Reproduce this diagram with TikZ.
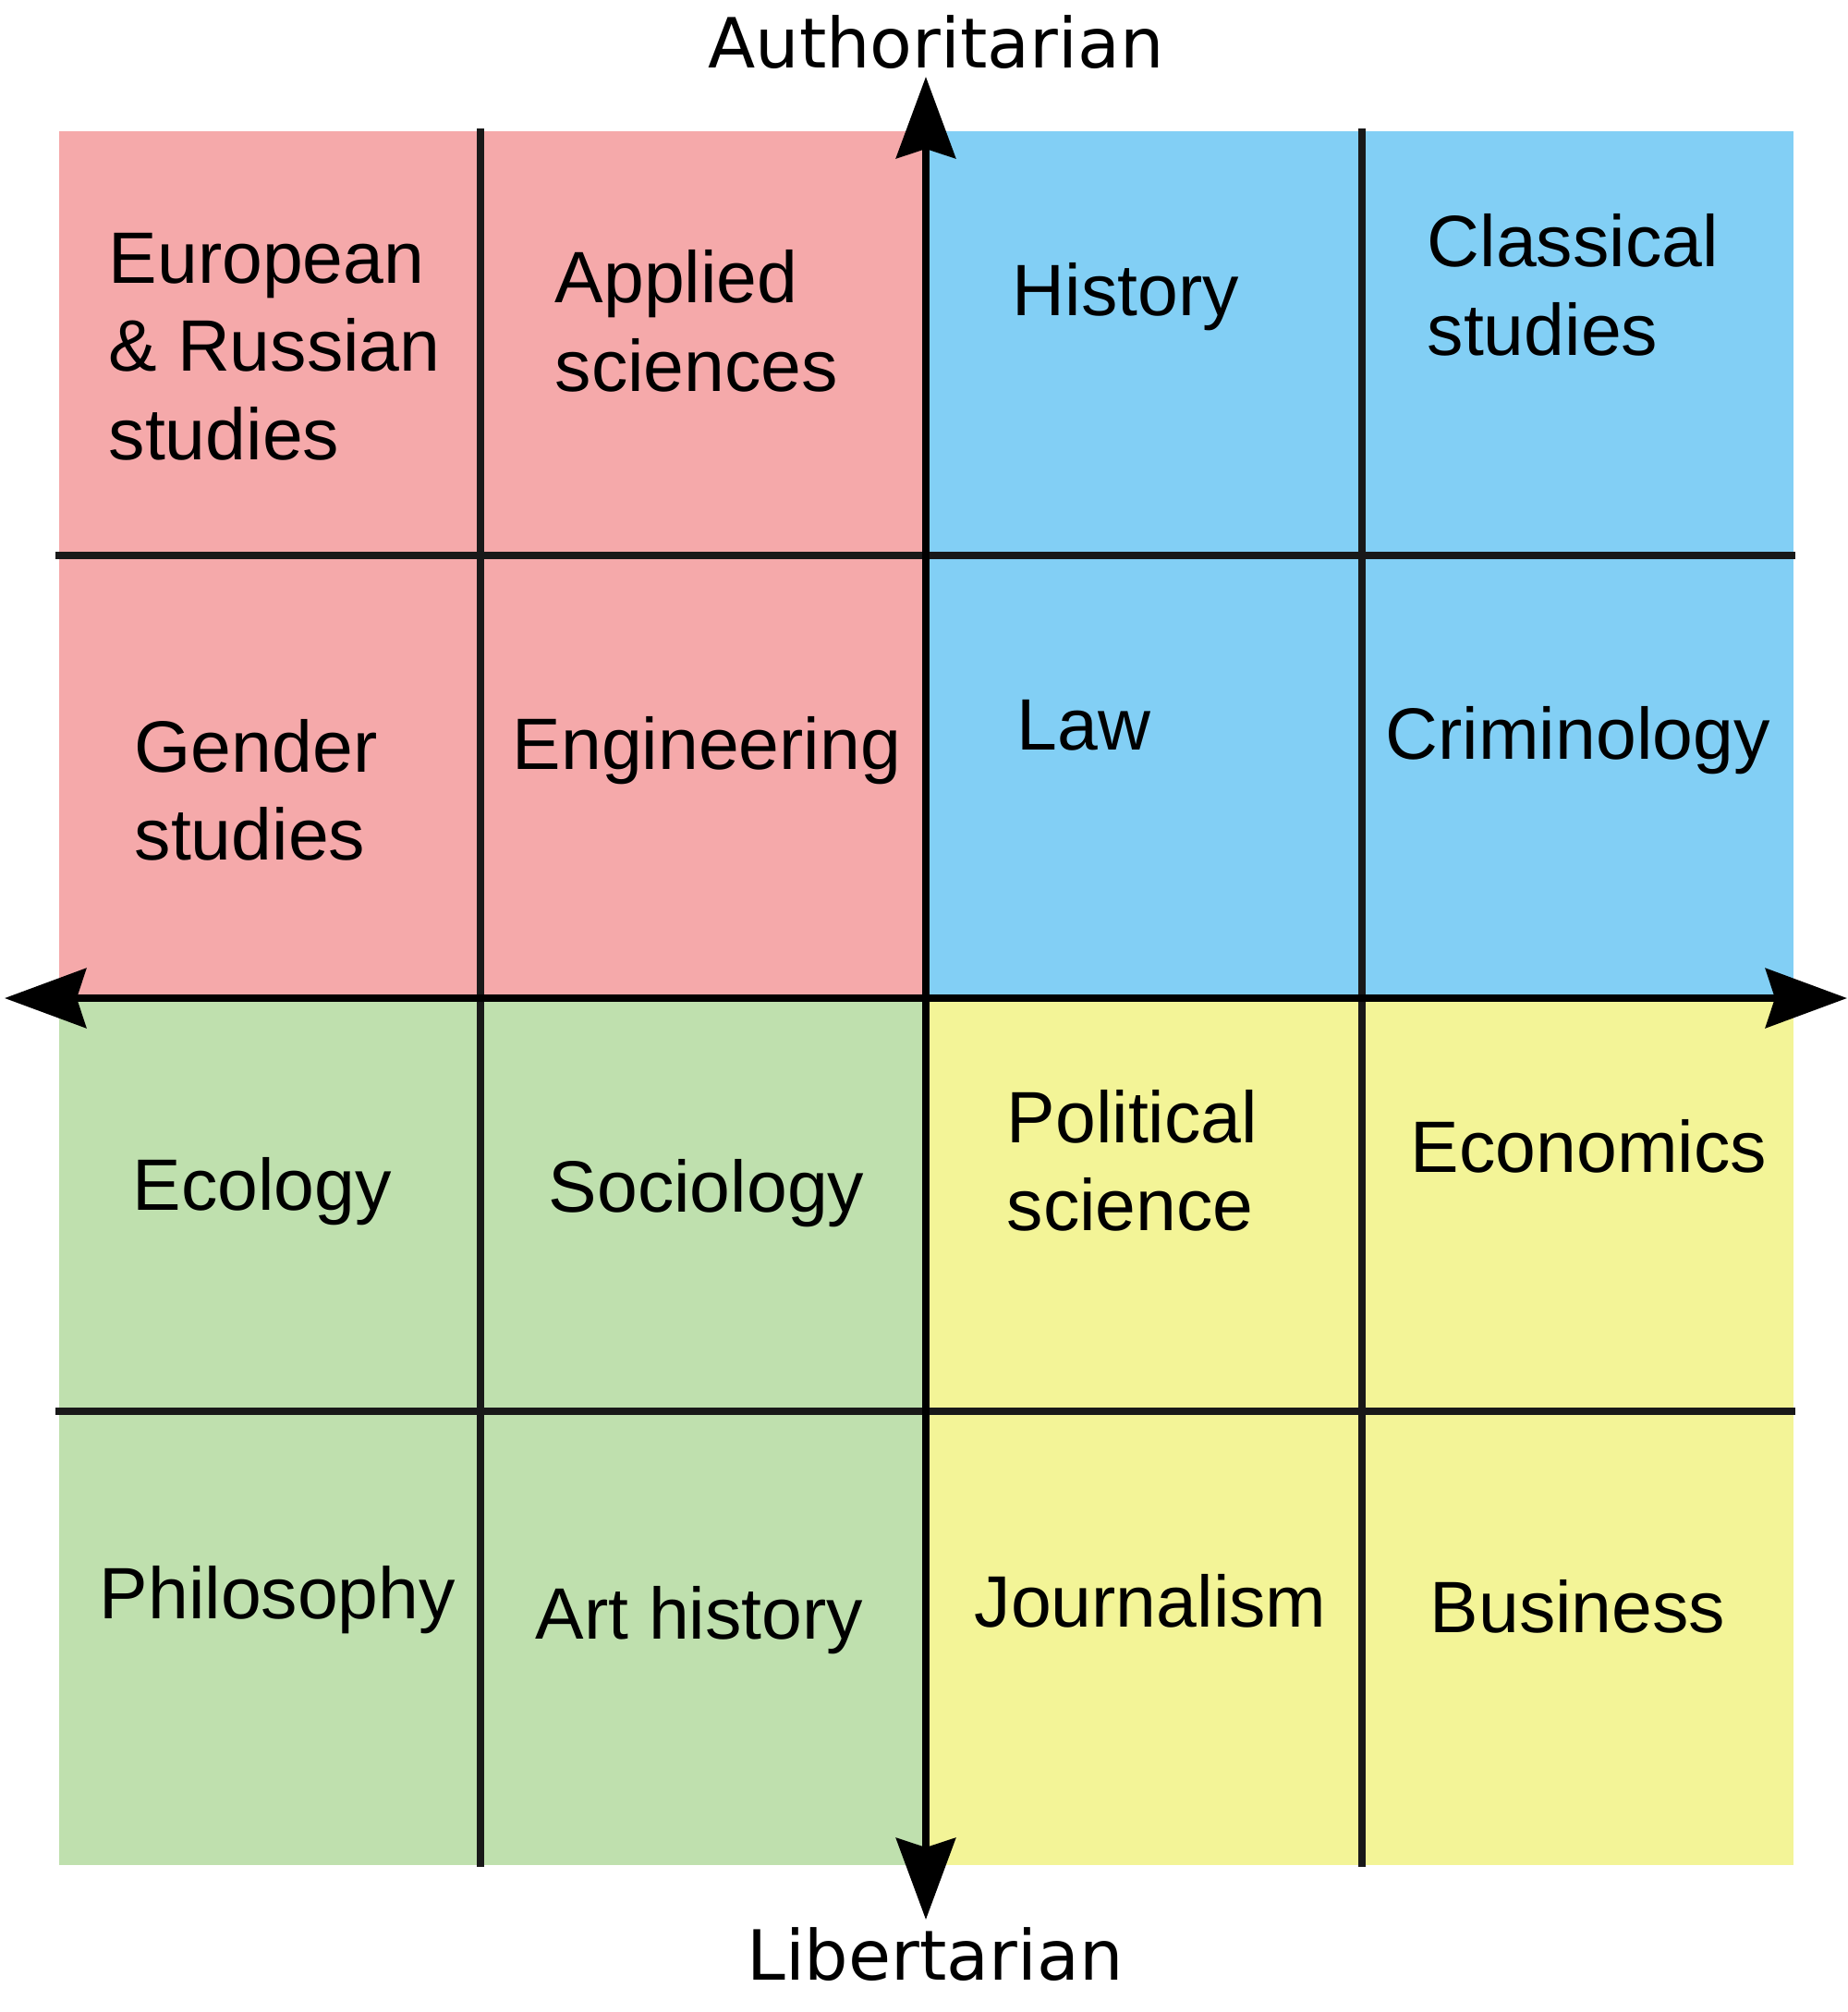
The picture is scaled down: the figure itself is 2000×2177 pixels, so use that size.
\documentclass[tikz,border=0pt]{standalone}
\usepackage{fontspec}
\setmainfont{Liberation Sans}
\newfontfamily\axisfont{DejaVu Sans}
\usetikzlibrary{arrows.meta}

\definecolor{authleft}{RGB}{245,169,170}
\definecolor{authright}{RGB}{130,207,245}
\definecolor{libleft}{RGB}{191,224,174}
\definecolor{libright}{RGB}{243,244,151}

\tikzset{
  field/.style={anchor=base west, align=left, inner sep=0pt,
    font=\fontsize{22.4pt}{27.1pt}\selectfont},
  pole/.style={anchor=base, inner sep=0pt,
    font=\axisfont\fontsize{21.3pt}{25pt}\selectfont},
  gridline/.style={line width=2.3pt, draw=black!90},
  axis/.style={line width=2.3pt, <->},
  >={Stealth[length=8.8mm,width=6.4mm,inset=1mm]}
}

\begin{document}
\begin{tikzpicture}[x=0.01cm,y=-0.01cm]
  \useasboundingbox (0,0) rectangle (2000,2177);

  % Os quatro quadrantes coloridos.
  \fill[authleft]  (64,142)   rectangle (1002,1080);
  \fill[authright] (1002,142) rectangle (1941,1080);
  \fill[libleft]   (64,1080)  rectangle (1002,2018);
  \fill[libright]  (1002,1080) rectangle (1941,2018);

  % Linhas da grelha interior.
  \foreach \x in {520,1474} {
    \draw[gridline] (\x,139) -- (\x,2020);
  }
  \foreach \y in {601,1527} {
    \draw[gridline] (60,\y) -- (1943,\y);
  }

  % Eixos com setas nas duas pontas.
  \coordinate (west)  at (5,1080);
  \coordinate (east)  at (1999,1080);
  \coordinate (north) at (1002,83);
  \coordinate (south) at (1002,2077);
  \draw[axis] (west) -- (east);
  \draw[axis] (north) -- (south);

  \node[pole] (auth) at (1013,73)   {Authoritarian};
  \node[pole] (lib)  at (1012,2142) {Libertarian};

  % Autoritário esquerda (nas caixas de várias linhas, a base é a última linha).
  \node[field] (europe)  at (117,497)   {European\\\& Russian\\studies};
  \node[field] (applied) at (600,423)   {Applied\\sciences};
  \node[field] (gender)  at (145,930.7) {Gender\\studies};
  \node[field] (engin)   at (554,832.7) {Engineering};

  % Autoritário direita.
  \node[field] (history)   at (1095,341.7) {History};
  \node[field] (classical) at (1544,384)   {Classical\\studies};
  \node[field] (law)       at (1100,811.7) {Law};
  \node[field] (crimin)    at (1499,821.7) {Criminology};

  % Libertário esquerda.
  \node[field] (ecology)  at (143,1309.3) {Ecology};
  \node[field] (sociol)   at (593,1311.7) {Sociology};
  \node[field] (philos)   at (107,1751.7) {Philosophy};
  \node[field] (arthist)  at (579,1773.3) {Art history};

  % Libertário direita.
  \node[field] (polsci)    at (1089,1331.7) {Political\\science};
  \node[field] (economics) at (1526,1268.3) {Economics};
  \node[field] (journal)   at (1054,1760)   {Journalism};
  \node[field] (business)  at (1547,1766)   {Business};
\end{tikzpicture}
\end{document}
